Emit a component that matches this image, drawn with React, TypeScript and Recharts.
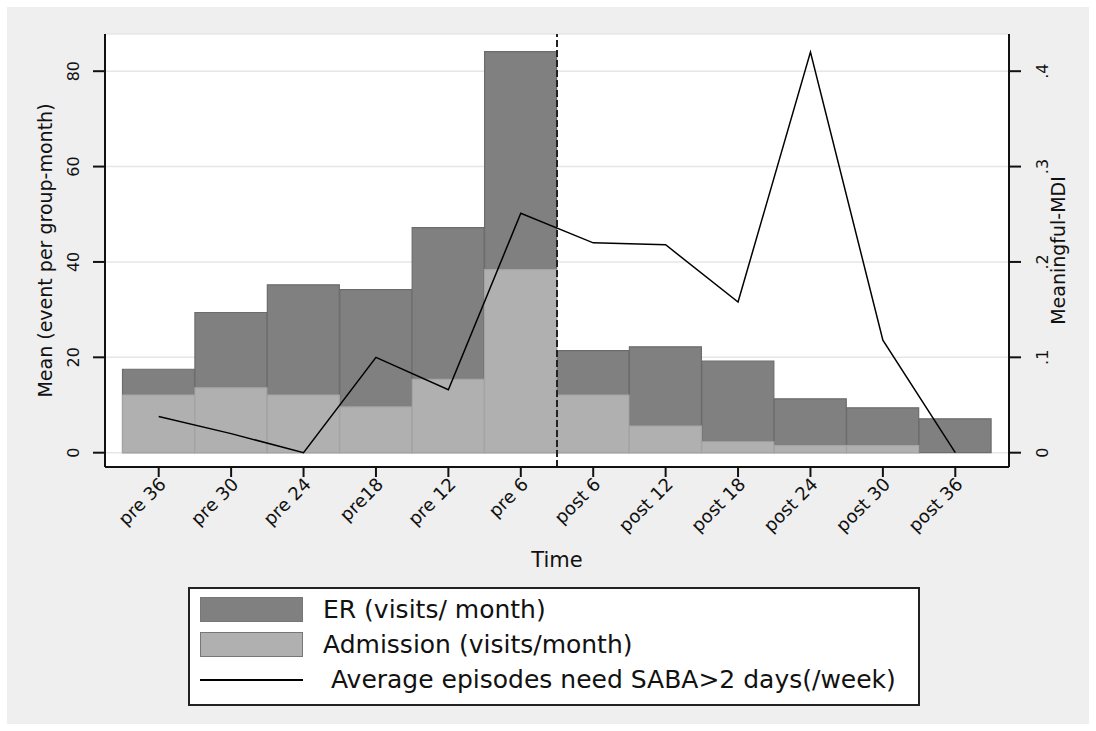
import { ComposedChart, Bar, Line, XAxis, YAxis, CartesianGrid, ReferenceLine } from 'recharts';

const categories = ['pre 36', 'pre 30', 'pre 24', 'pre18', 'pre 12', 'pre 6', 'post 6', 'post 12', 'post 18', 'post 24', 'post 30', 'post 36'];
const erVisits = [17.5, 29.4, 35.2, 34.2, 47.2, 84.1, 21.4, 22.2, 19.2, 11.3, 9.4, 7.1];
const admissionVisits = [12.1, 13.6, 12.1, 9.6, 15.4, 38.4, 12.1, 5.6, 2.3, 1.5, 1.5, 0];
const sabaEpisodes = [0.038, 0.02, 0, 0.1, 0.066, 0.251, 0.22, 0.218, 0.158, 0.42, 0.118, 0];
const leftTicks = [0, 20, 40, 60, 80];
const rightTicks = [0, 0.1, 0.2, 0.3, 0.4];

const seriesNames = {
    er: 'ER (visits/ month)',
    admission: 'Admission (visits/month)',
    saba: ' Average episodes need SABA>2 days(/week)',
};

const data = categories.map((c, i) => ({
    time: c,
    er: erVisits[i],
    admission: admissionVisits[i],
    saba: sabaEpisodes[i],
}));

const FONT = '"DejaVu Sans", Verdana, sans-serif';
const DARK = '#808080';
const LIGHT = '#b0b0b0';

const fmtRight = (v: number) => (v === 0 ? '0' : String(v).replace(/^0/, ''));

const LeftTick = ({ x, y, payload }: any) => (
    <text transform={`translate(${x - 18},${y}) rotate(-90)`} textAnchor="middle" dominantBaseline="central"
        fontSize={16} fontFamily={FONT} fill="#111">
        {payload.value}
    </text>
);

const RightTick = ({ x, y, payload }: any) => (
    <text transform={`translate(${x + 19},${y}) rotate(-90)`} textAnchor="middle" dominantBaseline="central"
        fontSize={16} fontFamily={FONT} fill="#111">
        {fmtRight(payload.value)}
    </text>
);

// x labels slanted 45deg, ending at the tick
const BottomTick = ({ x, y, payload }: any) => (
    <text transform={`translate(${x + 4},${y + 2}) rotate(-45)`} textAnchor="end" dy="0.35em"
        fontSize={18} fontFamily={FONT} fill="#111">
        {payload.value}
    </text>
);

const AxisTitle = ({ viewBox, value, dx }: any) => {
    const cx = viewBox.x + dx;
    const cy = viewBox.y + viewBox.height / 2;
    return (
        <text transform={`translate(${cx},${cy}) rotate(-90)`} textAnchor="middle" dominantBaseline="central"
            fontSize={19} fontFamily={FONT} fill="#111">
            {value}
        </text>
    );
};

const LegendBox = () => {
    const rows = [
        { name: seriesNames.er, type: 'box', color: DARK },
        { name: seriesNames.admission, type: 'box', color: LIGHT },
        { name: seriesNames.saba, type: 'line', color: '#000' },
    ];
    return (
        <div style={{
            position: 'absolute', left: 188, top: 587, width: 728, height: 112,
            border: '2px solid #222', background: '#fff', fontFamily: FONT, fontSize: 25,
            paddingTop: 3, boxSizing: 'content-box',
        }}>
            {rows.map((r) => (
                <div key={r.name} style={{ display: 'flex', alignItems: 'center', height: 35 }}>
                    <div style={{ width: 103, height: 25, marginLeft: 10, marginRight: 20, display: 'flex', alignItems: 'center' }}>
                        {r.type === 'box'
                            ? <div style={{ width: '100%', height: '100%', background: r.color, boxSizing: 'border-box', border: '1px solid #777' }} />
                            : <div style={{ width: '100%', height: 2, background: r.color }} />}
                    </div>
                    <span style={{ whiteSpace: 'pre', color: '#111' }}>{r.name}</span>
                </div>
            ))}
        </div>
    );
};

export default function App() {
    return (
        <div style={{ position: 'absolute', left: 0, top: 0, width: 1096, height: 731, background: '#fff' }}>
            <div style={{ position: 'absolute', left: 7, top: 7, width: 1082, height: 717, background: '#efefef' }} />
            <div style={{ position: 'absolute', left: 0, top: 0 }}>
                <ComposedChart width={1096} height={731} data={data} barCategoryGap={0}
                    margin={{ top: 34, right: 17, bottom: 184, left: 35 }}>
                    <CartesianGrid xAxisId="a" yAxisId="l" vertical={false} stroke="#e6e6e6" strokeWidth={1.5} fill="#fff" />
                    <XAxis xAxisId="a" dataKey="time" height={80} padding={{ left: 17.5, right: 17.5 }}
                        axisLine={{ stroke: '#111', strokeWidth: 2 }} tickLine={{ stroke: '#111', strokeWidth: 2 }}
                        tickSize={10} tickMargin={2} interval={0} tick={<BottomTick />}
                        label={{ value: 'Time', position: 'insideBottom', offset: -20, fontSize: 21, fontFamily: FONT, fill: '#111' }} />
                    <XAxis xAxisId="b" dataKey="time" hide padding={{ left: 17.5, right: 17.5 }} />
                    <YAxis yAxisId="l" orientation="left" width={70} domain={[-3, 87.8]} ticks={leftTicks}
                        allowDataOverflow axisLine={{ stroke: '#111', strokeWidth: 2 }}
                        tickLine={{ stroke: '#111', strokeWidth: 2 }} tickSize={12} tickMargin={2} tick={<LeftTick />}
                        label={<AxisTitle value="Mean (event per group-month)" dx={10} />} />
                    <YAxis yAxisId="r" orientation="right" width={70} domain={[-0.015, 0.439]} ticks={rightTicks}
                        allowDataOverflow axisLine={{ stroke: '#111', strokeWidth: 2 }}
                        tickLine={{ stroke: '#111', strokeWidth: 2 }} tickSize={12} tickMargin={2} tick={<RightTick />}
                        label={<AxisTitle value="Meaningful-MDI" dx={49} />} />
                    <Bar xAxisId="a" yAxisId="l" dataKey="er" name={seriesNames.er} fill={DARK}
                        stroke="#6c6c6c" strokeWidth={1.2} isAnimationActive={false} />
                    <Bar xAxisId="b" yAxisId="l" dataKey="admission" name={seriesNames.admission} fill={LIGHT}
                        stroke="#a4a4a4" strokeWidth={1.2} isAnimationActive={false} />
                    <ReferenceLine xAxisId="a" yAxisId="l" x="pre 6" position="end" stroke="#222"
                        strokeWidth={2} strokeDasharray="7 3" />
                    <Line xAxisId="a" yAxisId="r" dataKey="saba" name={seriesNames.saba} type="linear"
                        stroke="#000" strokeWidth={1.5} dot={false} activeDot={false} isAnimationActive={false} />
                </ComposedChart>
            </div>
            <LegendBox />
        </div>
    );
}
